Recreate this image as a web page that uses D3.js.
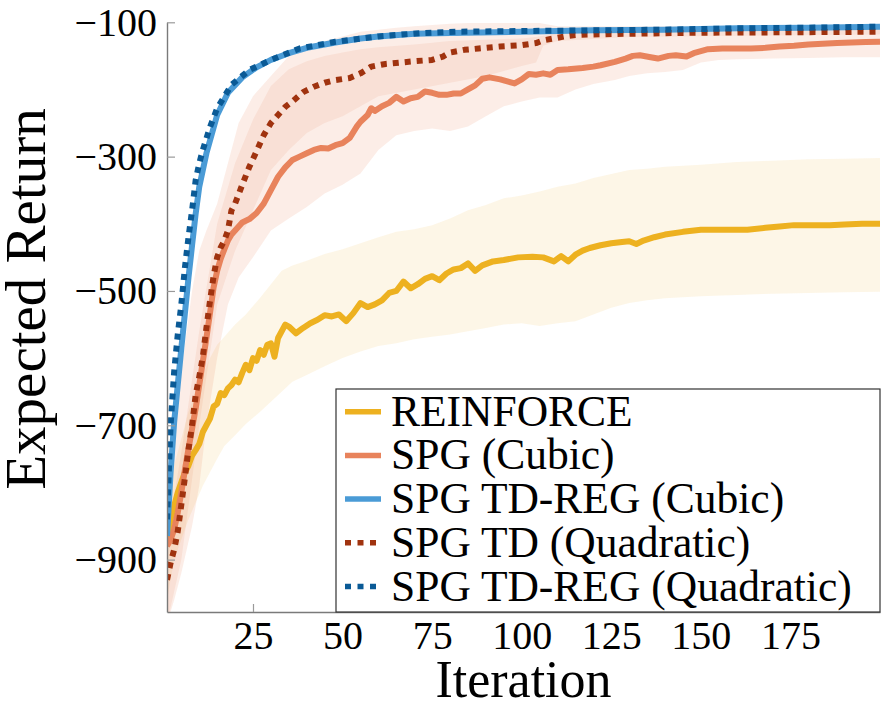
<!DOCTYPE html>
<html>
<head>
<meta charset="utf-8">
<script src="https://cdn.jsdelivr.net/npm/d3@7"></script>
<style>
  body { margin: 0; background: #fff; }
  text { font-family: "Liberation Serif", "Times New Roman", serif; }
</style>
</head>
<body>
<div id="chart"></div>
<script>
// ---- data ----
var reinforceIter = [1,2,3,4,5,6,7,8,9,10,11,12,13,14,15,16,17,18,19,20,21,22,23,24,25,26,27,28,29,30,31,32,34,35,37,39,41,43,45,47,49,51,53,55,57,59,61,63,65,67,69,71,73,75,77,79,81,83,85,87,89,92,95,99,103,106,109,111,113,115,117,119,122,125,128,130,132,134,137,140,145,150,155,160,163,168,172,176,180,186,190,195,200];
var reinforceMean = [-870,-840,-820,-800,-785,-770,-760,-745,-737,-728,-710,-700,-690,-672,-668,-652,-655,-645,-640,-632,-636,-622,-610,-618,-600,-604,-588,-595,-580,-578,-598,-570,-550,-553,-563,-555,-548,-543,-536,-538,-535,-545,-533,-518,-524,-520,-514,-503,-500,-486,-496,-490,-482,-478,-484,-474,-468,-466,-459,-470,-462,-456,-454,-450,-449,-450,-456,-448,-456,-446,-440,-436,-432,-429,-427,-426,-430,-425,-420,-416,-412,-409,-409,-409,-409,-406,-404,-402,-402,-402,-401,-400,-400];

var spgCubicIter = [1,2,3,4,5,6,7,8,9,10,11,12,13,14,15,16,17,18,19,20,22,24,26,28,30,32,34,36,38,40,42,44,46,48,50,52,54,55,57,58,59,61,63,65,67,69,71,73,75,77,79,81,83,85,87,89,91,94,96,98,100,102,104,106,108,110,113,117,120,122,126,129,131,133,136,138,141,143,146,148,150,152,156,160,164,168,172,176,180,184,188,192,196,200];
var spgCubicMean = [-880,-870,-855,-830,-800,-766,-735,-705,-675,-640,-605,-570,-533,-495,-470,-452,-438,-425,-416,-410,-398,-393,-384,-370,-350,-330,-316,-305,-300,-295,-290,-287,-288,-283,-280,-272,-255,-248,-238,-228,-232,-225,-220,-211,-218,-213,-211,-203,-205,-208,-208,-206,-206,-200,-194,-184,-182,-185,-188,-191,-185,-177,-178,-176,-178,-171,-170,-168,-166,-164,-159,-154,-150,-149,-152,-154,-150,-149,-151,-146,-143,-140,-139,-139,-139,-138,-136,-135,-133,-132,-131,-130,-129.5,-129];

var tdRegCubicIter = [1,2,3,4,5,6,7,8,9,10,12,15,18,22,26,30,35,40,48,55,60,70,80,100,120,140,160,180,200];
var tdRegCubicMean = [-865,-770,-695,-640,-585,-533,-480,-432,-385,-345,-295,-238,-205,-182,-167,-156,-146,-138,-130,-124,-121,-117,-116,-114,-112,-111,-109,-108,-106.5];

var tdQuadIter = [1,2,3,4,5,6,7,8,9,10,11,12,13,14,15,16,17,18,19,20,22,24,26,28,30,32,34,36,39,42,45,48,52,55,58,62,66,70,75,78,80,84,88,94,100,104,106,109,112,115,120,130,150,170,200];
var tdQuadMean = [-930,-905,-885,-858,-818,-778,-736,-700,-655,-628,-598,-555,-515,-478,-450,-435,-425,-410,-380,-370,-342,-315,-292,-268,-250,-238,-226,-218,-204,-196,-190,-186,-183,-176,-166,-162,-160,-158,-156,-151,-145,-141,-139,-136,-134,-131,-127,-124,-121,-119,-118,-117,-115.5,-115,-114];

var tdRegQuadIter = [1,2,3,4,5,6,7,8,9,10,11,13,15,19,24,30,38,48,60,72,82,100,120,140,160,180,200];
var tdRegQuadMean = [-840,-700,-620,-565,-520,-465,-420,-380,-335,-310,-290,-256,-228,-193,-171,-156,-139,-129,-121,-116,-114,-113,-112,-111,-109,-108,-106.5];

// shaded bands (lower / upper edge)
var reinforceBandIter = [1,3,5,7,9,11,13,15,17,20,23,27,30,33,36,40,45,50,55,60,65,70,75,80,85,90,95,100,105,110,115,120,125,130,135,140,150,160,170,180,190,200];
var reinforceLow = [-960,-900,-870,-840,-815,-790,-770,-750,-731,-715,-698,-680,-665,-650,-635,-625,-612,-600,-590,-582,-578,-572,-568,-565,-560,-555,-550,-548,-552,-548,-545,-535,-525,-518,-514,-511,-508,-506,-504,-503,-502,-501];
var reinforceHigh = [-800,-760,-720,-680,-650,-625,-600,-580,-568,-550,-535,-510,-490,-470,-462,-455,-445,-438,-429,-420,-412,-408,-402,-392,-380,-372,-362,-358,-352,-345,-340,-332,-326,-320,-318,-315,-312,-308,-306,-304,-303,-302];

var spgCubicBandIter = [1,3,5,8,10,12,15,18,21,25,30,35,40,45,50,55,60,65,70,75,80,85,90,95,100,105,110,115,120,126,130,135,140,145,150,155,160,170,180,190,200];
var spgCubicLow = [-995,-960,-920,-850,-790,-700,-600,-520,-480,-450,-410,-392,-375,-355,-342,-325,-290,-268,-262,-258,-262,-255,-240,-225,-218,-212,-212,-200,-192,-186,-180,-176,-174,-171,-160,-156,-155,-154,-153,-152,-152];
var spgCubicHigh = [-770,-700,-620,-500,-440,-410,-370,-310,-250,-210,-180,-150,-140,-128,-121,-114,-111,-108,-106,-104,-102,-101,-101,-101,-101,-101,-106,-106,-106,-106,-106,-106,-106,-106,-106,-106,-106,-106,-106,-106,-106];

var tdQuadBandIter = [1,5,10,15,20,25,30,35,40,45,50,55,60,70,80,90,100,104,106,110,130,160,200];
var tdQuadLow = [-995,-900,-700,-520,-440,-380,-320,-290,-265,-250,-240,-225,-210,-200,-190,-180,-165,-160,-135,-128,-122,-120,-118];
var tdQuadHigh = [-870,-740,-560,-400,-310,-245,-195,-170,-158,-150,-145,-140,-137,-133,-128,-126,-124,-122,-120,-116,-113,-111,-110];

var legendNames = ["REINFORCE", "SPG (Cubic)", "SPG TD-REG (Cubic)", "SPG TD (Quadratic)", "SPG TD-REG (Quadratic)"];
var xTicks = [25, 50, 75, 100, 125, 150, 175];
var yTicks = [-100, -300, -500, -700, -900];

// ---- drawing ----
var colYellow = "#EDB120", colOrange = "#E8835C", colBlue = "#4A9BD6",
    colDarkRed = "#A0330F", colDarkBlue = "#0A5A96";

var svgW = 884, svgH = 705;
var plotLeft = 167, plotRight = 880, plotTop = 22.3, plotBottom = 612;

var svg = d3.select("#chart").append("svg")
    .attr("width", svgW)
    .attr("height", svgH);

var x = d3.scaleLinear().domain([1, 200]).range([plotLeft, plotRight]);
var y = d3.scaleLinear().domain([-978, -100]).range([plotBottom, plotTop]);

svg.append("defs").append("clipPath")
    .attr("id", "plot-clip")
    .append("rect")
    .attr("x", plotLeft).attr("y", plotTop)
    .attr("width", plotRight - plotLeft).attr("height", plotBottom - plotTop);

var plot = svg.append("g").attr("clip-path", "url(#plot-clip)");

var area = d3.area()
    .x(function(d) { return x(d[0]); })
    .y0(function(d) { return y(d[1]); })
    .y1(function(d) { return y(d[2]); });

var line = d3.line()
    .x(function(d) { return x(d[0]); })
    .y(function(d) { return y(d[1]); });

// bands
plot.append("path")
    .attr("d", area(d3.zip(reinforceBandIter, reinforceLow, reinforceHigh)))
    .attr("fill", colYellow).attr("fill-opacity", 0.11);
plot.append("path")
    .attr("d", area(d3.zip(spgCubicBandIter, spgCubicLow, spgCubicHigh)))
    .attr("fill", colOrange).attr("fill-opacity", 0.15);
plot.append("path")
    .attr("d", area(d3.zip(tdQuadBandIter, tdQuadLow, tdQuadHigh)))
    .attr("fill", colOrange).attr("fill-opacity", 0.12);

// mean curves
var series = [
    {it: reinforceIter, v: reinforceMean, color: colYellow, dash: null},
    {it: spgCubicIter, v: spgCubicMean, color: colOrange, dash: null},
    {it: tdRegCubicIter, v: tdRegCubicMean, color: colBlue, dash: null},
    {it: tdQuadIter, v: tdQuadMean, color: colDarkRed, dash: "6,6"},
    {it: tdRegQuadIter, v: tdRegQuadMean, color: colDarkBlue, dash: "6,6"}
];

series.forEach(function(s) {
    plot.append("path")
        .attr("d", line(d3.zip(s.it, s.v)))
        .attr("fill", "none")
        .attr("stroke", s.color)
        .attr("stroke-width", 6)
        .attr("stroke-linejoin", "round")
        .attr("stroke-dasharray", s.dash);
});

// axes
var xAxis = svg.append("g")
    .attr("transform", "translate(0," + plotBottom + ")")
    .call(d3.axisBottom(x).tickValues(xTicks).tickSize(-8).tickSizeOuter(0).tickPadding(9));
var yAxis = svg.append("g")
    .attr("transform", "translate(" + plotLeft + ",0)")
    .call(d3.axisLeft(y).tickValues(yTicks).tickSize(-8).tickSizeOuter(0).tickPadding(10));

[xAxis, yAxis].forEach(function(a) {
    a.select(".domain").attr("stroke", "#7a7a7a").attr("stroke-width", 1.4);
    a.selectAll(".tick line").attr("stroke", "#9a9a9a").attr("stroke-width", 1.2);
    a.selectAll(".tick text")
        .attr("fill", "#000")
        .style("font-size", "40px")
        .style("font-family", "'Liberation Serif', serif");
});

svg.append("text")
    .attr("x", (plotLeft + plotRight) / 2)
    .attr("y", 697)
    .attr("text-anchor", "middle")
    .style("font-size", "52px")
    .text("Iteration");

svg.append("text")
    .attr("transform", "translate(45," + 299 + ") rotate(-90)")
    .attr("text-anchor", "middle")
    .style("font-size", "57px")
    .text("Expected Return");

// legend
var legend = svg.append("g");
legend.append("rect")
    .attr("x", 336).attr("y", 389)
    .attr("width", plotRight - 336).attr("height", plotBottom - 389)
    .attr("fill", "#fff")
    .attr("stroke", "#333").attr("stroke-width", 1.2);

legendNames.forEach(function(name, i) {
    var cy = 411.7 + i * 43.7;
    var s = series[i];
    legend.append("line")
        .attr("x1", 345).attr("x2", 381)
        .attr("y1", cy).attr("y2", cy)
        .attr("stroke", s.color)
        .attr("stroke-width", 5.5)
        .attr("stroke-dasharray", s.dash ? "6,6.5" : null);
    legend.append("text")
        .attr("x", 391)
        .attr("y", cy + 14)
        .style("font-size", "43.5px")
        .text(name);
});
</script>
</body>
</html>
